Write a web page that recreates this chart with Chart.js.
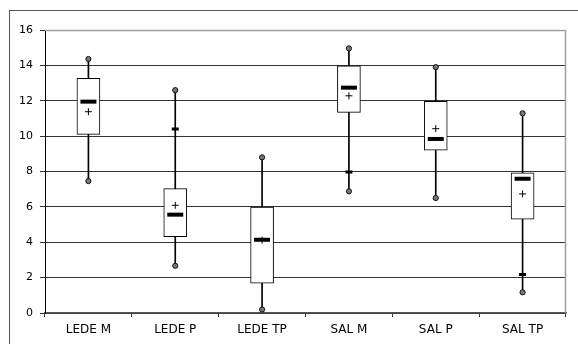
<!DOCTYPE html>
<html><head><meta charset="utf-8">
<script src="https://cdn.jsdelivr.net/npm/chart.js@4/dist/chart.umd.min.js"></script>
<style>
html,body{margin:0;padding:0;background:#fff;}
#wrap{position:relative;width:578px;height:344px;}
#frame{position:absolute;left:9px;top:10px;width:600px;height:400px;border-left:1px solid #555;border-top:1px solid #555;box-sizing:border-box;}
canvas{position:absolute;left:0;top:0;}
</style></head>
<body><div id="wrap"><div id="frame"></div><canvas id="c" width="578" height="344"></canvas></div>
<script>
const categories = ["LEDE M", "LEDE P", "LEDE TP", "SAL M", "SAL P", "SAL TP"];
const minVals    = [7.46, 2.67, 0.2, 6.88, 6.5, 1.17];
const maxVals    = [14.36, 12.6, 8.8, 14.96, 13.9, 11.29];
const q1Vals     = [10.1, 4.31, 1.68, 11.34, 9.2, 5.31];
const q3Vals     = [13.27, 7.03, 5.99, 13.98, 11.97, 7.93];
const medianVals = [11.95, 5.56, 4.14, 12.74, 9.84, 7.59];
const meanVals   = [11.38, 6.09, 4.12, 12.28, 10.42, 6.73];
const p10Vals    = [null, null, null, 7.97, null, 2.17];
const p90Vals    = [null, 10.4, null, null, null, null];
const yTicks     = [0, 2, 4, 6, 8, 10, 12, 14, 16];

const plotBorder = {
  id: 'plotBorder',
  afterDraw(chart) {
    const {ctx, chartArea: a} = chart;
    ctx.save();
    ctx.strokeStyle = '#a0a0a0';
    ctx.lineWidth = 1.5;
    ctx.beginPath();
    ctx.moveTo(a.left, a.top + 0.5);
    ctx.lineTo(a.right - 0.5, a.top + 0.5);
    ctx.lineTo(a.right - 0.5, a.bottom);
    ctx.stroke();
    ctx.restore();
  }
};

const pts = (data, extra) => Object.assign({
  type: 'line', data, showLine: false, pointHoverRadius: 0
}, extra);

new Chart(document.getElementById('c'), {
  type: 'bar',
  data: {
    labels: categories,
    datasets: [
      { type: 'bar', data: categories.map((_, i) => [minVals[i], maxVals[i]]),
        backgroundColor: '#000', borderWidth: 0, barThickness: 1, grouped: false, order: 10 },
      { type: 'bar', data: categories.map((_, i) => [q1Vals[i], q3Vals[i]]),
        backgroundColor: '#fff', borderColor: '#000', borderWidth: 1, borderSkipped: false,
        barThickness: 23, grouped: false, order: 9 },
      pts(minVals, { pointStyle: 'circle', pointRadius: 2.6, pointBackgroundColor: '#777', pointBorderColor: '#111', pointBorderWidth: 1, order: 5 }),
      pts(maxVals, { pointStyle: 'circle', pointRadius: 2.6, pointBackgroundColor: '#777', pointBorderColor: '#111', pointBorderWidth: 1, order: 5 }),
      pts(p10Vals, { pointStyle: 'line', pointRadius: 3.5, pointBorderColor: '#000', pointBorderWidth: 3, order: 4 }),
      pts(p90Vals, { pointStyle: 'line', pointRadius: 3.5, pointBorderColor: '#000', pointBorderWidth: 3, order: 4 }),
      pts(medianVals, { pointStyle: 'line', pointRadius: 8, pointBorderColor: '#000', pointBorderWidth: 4, order: 3 }),
      pts(meanVals, { pointStyle: 'cross', pointRadius: 3.5, pointBorderColor: '#000', pointBorderWidth: 1, order: 2 })
    ]
  },
  options: {
    responsive: false,
    animation: false,
    events: [],
    layout: { padding: { top: 30, right: 3, bottom: 0, left: 0 } },
    plugins: { legend: { display: false }, tooltip: { enabled: false } },
    scales: {
      x: {
        offset: true,
        afterFit(s) { s.height = 31; },
        grid: { offset: true, drawOnChartArea: false, drawTicks: true, tickLength: 4, color: '#333' },
        border: { color: '#555', width: 1.5 },
        ticks: { color: '#000', padding: 6, font: { family: 'DejaVu Sans', size: 12 } }
      },
      y: {
        min: 0, max: 16,
        afterFit(s) { s.width = 45; },
        afterBuildTicks(s) { s.ticks = yTicks.map(v => ({ value: v })); },
        grid: { color: (c) => c.tick && c.tick.value === 16 ? '#a0a0a0' : '#333', tickColor: '#333', tickLength: 5, lineWidth: 1 },
        border: { color: '#000', width: 1 },
        ticks: { color: '#000', padding: 7, font: { family: 'DejaVu Sans', size: 11 } }
      }
    }
  },
  plugins: [plotBorder]
});
</script></body></html>
